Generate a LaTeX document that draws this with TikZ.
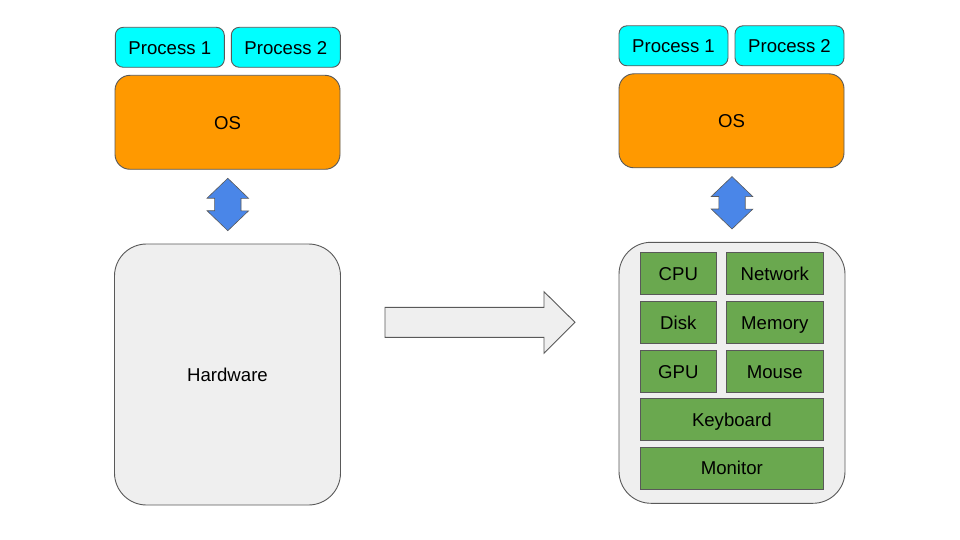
\documentclass[tikz,border=0pt]{standalone}
\usepackage{fontspec}
\setmainfont{Liberation Sans}
\usetikzlibrary{calc}
\definecolor{proccol}{HTML}{00FFFF}
\definecolor{oscol}{HTML}{FF9900}
\definecolor{arrcol}{HTML}{4A86E8}
\definecolor{hwcol}{HTML}{6AA84F}
\definecolor{graycol}{HTML}{EFEFEF}
\definecolor{linecol}{HTML}{595959}
\tikzset{
  base/.style={draw=linecol, line width=0.9pt, inner sep=0pt, text height=13.6pt, text depth=0pt, font=\fontsize{18.6}{22}\selectfont},
  procbox/.style={base, fill=proccol, rounded corners=8pt, minimum width=109pt, minimum height=40pt},
  osbox/.style={base, fill=oscol, rounded corners=15pt, minimum width=225pt, minimum height=94pt},
  hwbox/.style={base, fill=graycol, rounded corners=32pt, minimum width=226pt, minimum height=261pt},
  partbox/.style={base, fill=hwcol, minimum height=42pt},
  dblarrow/.style={draw=linecol, line width=0.6pt, fill=arrcol},
  bigarrow/.style={draw=linecol, line width=0.9pt, fill=graycol}
}
\begin{document}
\begin{tikzpicture}[x=1pt,y=-1pt]
\useasboundingbox (0,0) rectangle (960,540);
% left column
\node[procbox] (lp1) at (169.8,47.3) {Process 1};
\node[procbox] (lp2) at (285.8,47.3) {Process 2};
\node[osbox] (los) at (227.5,122.3) {OS};
\node[hwbox] (lhw) at (227.5,374.5) {Hardware};
\coordinate (la) at (227.8,204.5);
\draw[dblarrow] ($(la)+(0,-26.2)$) -- ++(20.8,20) -- ++(-7.6,0) -- ++(0,12.5) -- ++(7.6,0)
  -- ($(la)+(0,26.2)$) -- ++(-20.8,-20) -- ++(7.6,0) -- ++(0,-12.5) -- ++(-7.6,0) -- cycle;
% big arrow
\draw[bigarrow] (385,307.3) -- (544,307.3) -- (544,291.7) -- (575,322.3) -- (544,353.3) -- (544,337.3) -- (385,337.3) -- cycle;
% right column
\node[procbox] (rp1) at (673.5,45.8) {Process 1};
\node[procbox] (rp2) at (789.5,45.8) {Process 2};
\node[osbox] (ros) at (731.5,120.8) {OS};
\node[hwbox] (rhw) at (732,372.8) {};
\coordinate (ra) at (732,202.8);
\draw[dblarrow] ($(ra)+(0,-26.2)$) -- ++(20.8,20) -- ++(-7.6,0) -- ++(0,12.5) -- ++(7.6,0)
  -- ($(ra)+(0,26.2)$) -- ++(-20.8,-20) -- ++(7.6,0) -- ++(0,-12.5) -- ++(-7.6,0) -- cycle;
\node[partbox, minimum width=76.7pt] (cpu) at (678.3,273.3) {CPU};
\node[partbox, minimum width=97.7pt] (net) at (774.8,273.3) {Network};
\node[partbox, minimum width=76.7pt] (disk) at (678.3,322.2) {Disk};
\node[partbox, minimum width=97.7pt] (mem) at (774.8,322.2) {Memory};
\node[partbox, minimum width=76.7pt] (gpu) at (678.3,371.2) {GPU};
\node[partbox, minimum width=97.7pt] (mouse) at (774.8,371.2) {Mouse};
\node[partbox, minimum width=183.7pt] (kb) at (731.8,419.3) {Keyboard};
\node[partbox, minimum width=183.7pt] (mon) at (731.8,468) {Monitor};
\end{tikzpicture}
\end{document}
